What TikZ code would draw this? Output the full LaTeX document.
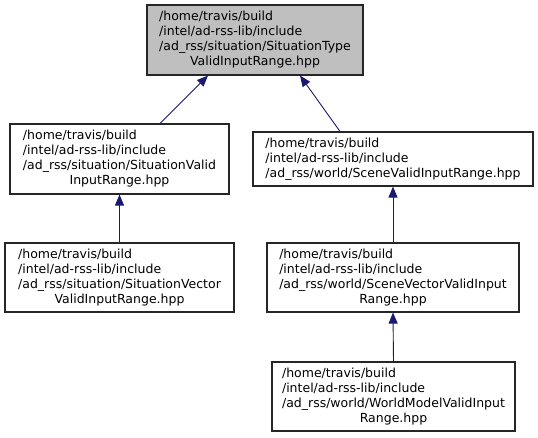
\documentclass[tikz,border=0pt]{standalone}
\usepackage{fontspec}
\setmainfont{DejaVu Sans}
\usetikzlibrary{arrows.meta,calc}
\definecolor{edgecol}{HTML}{191970}
\definecolor{topfill}{HTML}{BFBFBF}
\newcommand{\flines}[2]{\begin{tabular}{@{}l@{}}#1\\\multicolumn{1}{@{}c@{}}{#2}\end{tabular}}
\begin{document}
\begin{tikzpicture}[x=1pt,y=-1pt,
  box/.style={draw=black!85, line width=1.1pt, inner sep=0pt, font=\fontsize{12.5}{15}\selectfont, anchor=center},
  edge/.style={draw=edgecol, line width=0.9pt, {Triangle[length=11pt,width=9pt]}-}]
\useasboundingbox (0,0) rectangle (538,437);
\node[box, fill=topfill, minimum width=216pt, minimum height=70pt] (top) at (255,40)
  {\flines{/home/travis/build\\/intel/ad-rss-lib/include\\/ad\_rss/situation/SituationType}{ValidInputRange.hpp}};
\node[box, minimum width=219pt, minimum height=70pt] (lmid) at (119.5,159)
  {\flines{/home/travis/build\\/intel/ad-rss-lib/include\\/ad\_rss/situation/SituationValid}{InputRange.hpp}};
\node[box, minimum width=280pt, minimum height=54pt] (rmid) at (393,159)
  {\flines{/home/travis/build\\/intel/ad-rss-lib/include}{/ad\_rss/world/SceneValidInputRange.hpp}};
\node[box, minimum width=229pt, minimum height=69pt] (lbot) at (119.5,277.5)
  {\flines{/home/travis/build\\/intel/ad-rss-lib/include\\/ad\_rss/situation/SituationVector}{ValidInputRange.hpp}};
\node[box, minimum width=252pt, minimum height=69pt] (rmid2) at (393,277.5)
  {\flines{/home/travis/build\\/intel/ad-rss-lib/include\\/ad\_rss/world/SceneVectorValidInput}{Range.hpp}};
\node[box, minimum width=243pt, minimum height=69pt] (rbot) at (393.5,396.5)
  {\flines{/home/travis/build\\/intel/ad-rss-lib/include\\/ad\_rss/world/WorldModelValidInput}{Range.hpp}};
\draw[edge] ([xshift=-47pt]top.south) -- ([xshift=40.5pt]lmid.north);
\draw[edge] ([xshift=45pt]top.south) -- ([xshift=-53pt]rmid.north);
\draw[edge] (lmid.south) -- (lbot.north);
\draw[edge] (rmid.south) -- (rmid2.north);
\draw[edge] (rmid2.south) -- (rbot.north);
\end{tikzpicture}
\end{document}
